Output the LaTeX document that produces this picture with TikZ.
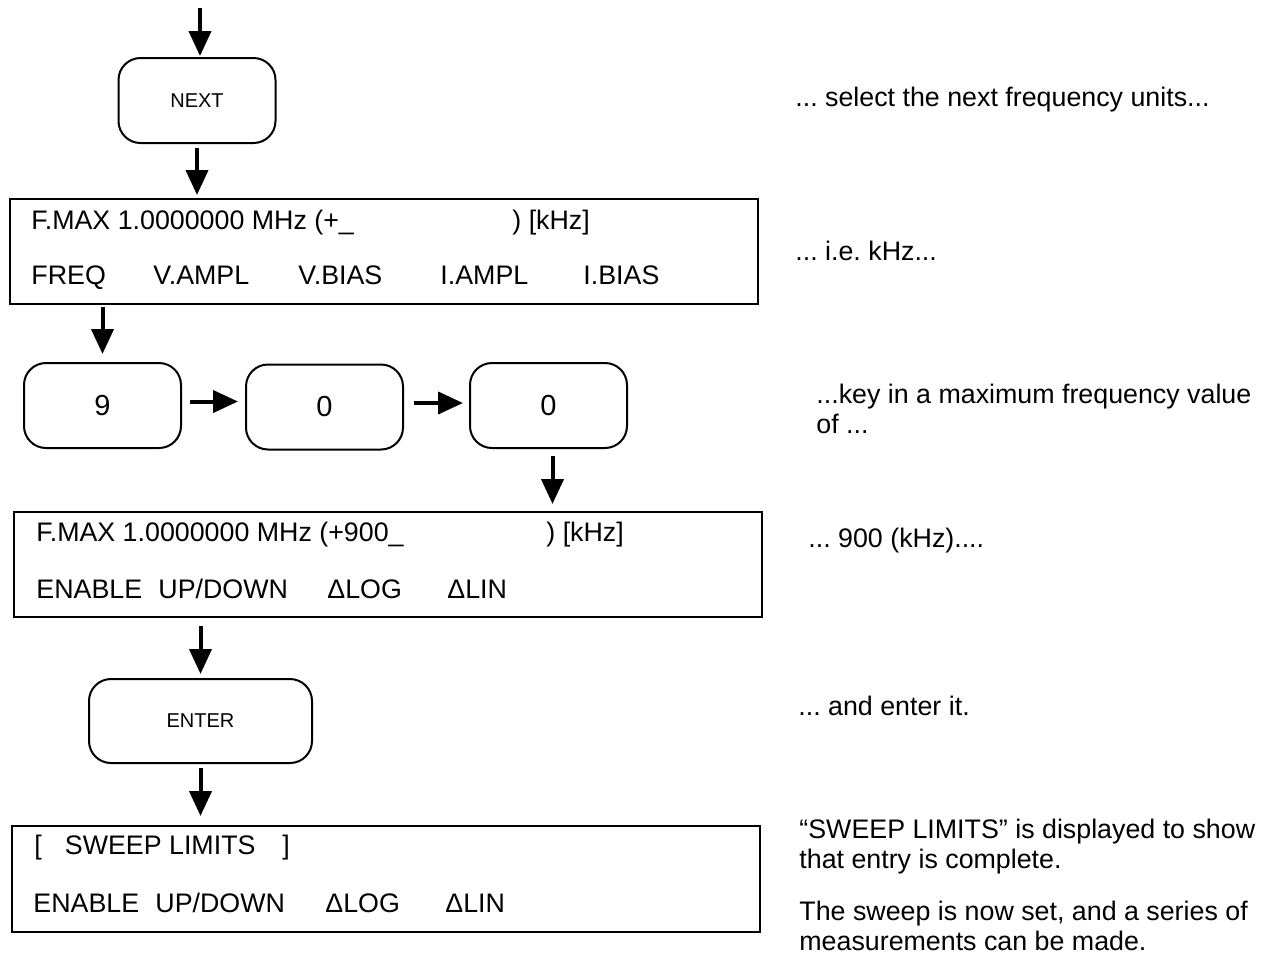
\documentclass[tikz,border=0pt]{standalone}
\usepackage{fontspec}
\setmainfont{Liberation Sans}
\usetikzlibrary{arrows.meta}
\frenchspacing
\tikzset{
  keyb/.style={draw, rounded corners=11pt, line width=1pt, inner sep=0pt,
               minimum width=78.5pt, minimum height=42.5pt,
               font=\fontsize{14.5}{16}\selectfont},
  cmdb/.style={keyb, font=\fontsize{10}{12}\selectfont},
  dispb/.style={draw, line width=1pt, inner sep=0pt,
                minimum width=374pt, minimum height=52.5pt},
  txt/.style={anchor=west, inner sep=0pt, text height=9.6pt, text depth=0pt,
              font=\fontsize{13.4}{14.75}\selectfont},
  note/.style={anchor=north west, inner sep=0pt, align=left,
               font=\fontsize{13.4}{14.75}\selectfont},
  ar/.style={-{Triangle[length=12.5pt,width=11pt]}, line width=2pt},
}

\begin{document}
\begin{tikzpicture}[x=0.5pt, y=-0.5pt]
  \useasboundingbox (0,0) rectangle (1270,955);

  % keys and displays
  \node[cmdb] (next) at (197,100.5) {NEXT};
  \node[dispb] (disp1) at (384,251.5) {};
  \node[keyb] (key9) at (102.5,405.5) {9};
  \node[keyb] (key0a) at (324.5,407) {0};
  \node[keyb] (key0b) at (548.5,405.5) {0};
  \node[dispb] (disp2) at (388,564.5) {};
  \node[cmdb, minimum width=111.5pt, minimum height=42pt] (enter) at (200.5,721) {ENTER};
  \node[dispb, minimum height=53pt] (disp3) at (385.5,879) {};

  % display texts
  \node[txt] (fmax1) at (31,220) {F.MAX 1.0000000 MHz (+\_};
  \node[txt] (unit1) at (512,220) {) [kHz]};
  \foreach \x/\s [count=\i] in {31/FREQ, 153/V.AMPL, 298/V.BIAS, 440/I.AMPL, 583/I.BIAS}
    \node[txt] (sk\i) at (\x,275) {\s};

  \node[txt] (fmax2) at (36,532) {F.MAX 1.0000000 MHz (+900\_};
  \node[txt] (unit2) at (546,532) {) [kHz]};
  \foreach \x/\s [count=\i] in {36/ENABLE, 158/{UP/DOWN}, 327/ΔLOG, 447/ΔLIN}
    \node[txt] (ska\i) at (\x,589) {\s};

  \node[txt] (lbr) at (34,845) {[};
  \node[txt] (swl) at (64.5,845) {SWEEP LIMITS};
  \node[txt] (rbr) at (282,845) {]};
  \foreach \x/\s [count=\i] in {33/ENABLE, 155/{UP/DOWN}, 325/ΔLOG, 445/ΔLIN}
    \node[txt] (skb\i) at (\x,903) {\s};

  % notes on the right
  \node[txt] (n1) at (795,97) {... select the next frequency units...};
  \node[txt] (n2) at (795,251) {... i.e. kHz...};
  \node[note] (n3) at (816,383.7) {...key in a maximum frequency value\\of ...};
  \node[txt] (n4) at (808,538) {... 900 (kHz)....};
  \node[txt] (n5) at (798,706) {... and enter it.};
  \node[note] (n6) at (799,818.7) {“SWEEP LIMITS” is displayed to show\\that entry is complete.};
  \node[note] (n7) at (799,900.7) {The sweep is now set, and a series of\\measurements can be made.};

  % arrows
  \coordinate (in) at (200,8);
  \draw[ar, shorten >=0.5pt] (in) -- (in |- next.north);
  \draw[ar, shorten <=2pt, shorten >=1.5pt] (next.south) -- (next.south |- disp1.north);
  \draw[ar, shorten <=1pt, shorten >=4pt] (key9.north |- disp1.south) -- (key9.north);
  \draw[ar, shorten <=4pt, shorten >=3.5pt] ([yshift=2pt]key9.east) -- ([yshift=2pt]key9.east -| key0a.west);
  \draw[ar, shorten <=5pt, shorten >=3pt] ([yshift=2pt]key0a.east) -- ([yshift=2pt]key0a.east -| key0b.west);
  \draw[ar, shorten <=3.5pt, shorten >=3.5pt] ([xshift=2pt]key0b.south) -- ([xshift=2pt]key0b.south |- disp2.north);
  \draw[ar, shorten <=4pt, shorten >=2pt] (enter.north |- disp2.south) -- (enter.north);
  \draw[ar, shorten <=2pt, shorten >=4.5pt] (enter.south) -- (enter.south |- disp3.north);
\end{tikzpicture}
\end{document}
